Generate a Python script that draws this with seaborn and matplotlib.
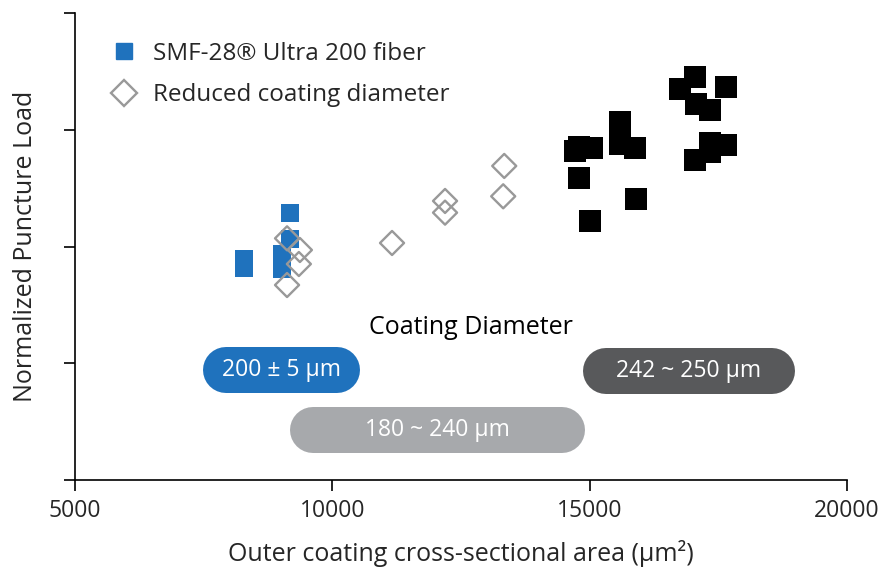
import matplotlib
matplotlib.use("Agg")
import matplotlib.pyplot as plt
from matplotlib.lines import Line2D
import pandas as pd
import seaborn as sns

# ---------------------------------------------------------------------------
#         Data
# ---------------------------------------------------------------------------
# SMF-28 Ultra 200 fiber (200 +/- 5 um coating)
ultra_x = [8280, 8280, 9180, 9180, 9020, 9020]
ultra_y = [1.89, 1.82, 2.29, 2.06, 1.94, 1.81]

# reduced coating diameter (180 ~ 240 um)
reduced_x = [9120, 9370, 9350, 9120, 11160, 12190, 12190, 13340, 13320]
reduced_y = [2.07, 1.97, 1.85, 1.67, 2.03, 2.39, 2.29, 2.69, 2.43]

# standard coating (242 ~ 250 um)
std_x = [17050, 16760, 17650, 17070, 17340, 17340, 17650, 17050, 17340,
         15590, 15590, 15880, 14720, 14790, 15050, 14790, 15900, 15010]
std_y = [3.45, 3.35, 3.37, 3.22, 3.17, 2.89, 2.87, 2.74, 2.81,
         3.07, 2.88, 2.84, 2.82, 2.85, 2.84, 2.59, 2.41, 2.22]

x_ticks = [5000, 10000, 15000, 20000]
y_ticks = [0, 1, 2, 3, 4]

pill_labels = ["200 \u00b1 5 \u03bcm", "180 ~ 240 \u03bcm", "242 ~ 250 \u03bcm"]
pill_spans = [(7490, 10540), (9180, 14910), (14870, 18990)]
pill_rows = [0.94, 0.43, 0.935]

BLUE = "#1f72bd"
DIAMOND = "#999999"
LIGHT = "#a7a9ac"
DARK = "#58595b"

# ---------------------------------------------------------------------------
#         Plot
# ---------------------------------------------------------------------------
sns.set_theme(style="ticks")
plt.rcParams["font.family"] = ["Open Sans", "DejaVu Sans"]

fig = plt.figure(figsize=(8.81, 5.69), dpi=100)
ax = fig.add_axes([75 / 881, 89 / 569, 772 / 881, 467 / 569])

df_std = pd.DataFrame(dict(x=std_x, y=std_y))
df_ultra = pd.DataFrame(dict(x=ultra_x, y=ultra_y))
df_red = pd.DataFrame(dict(x=reduced_x, y=reduced_y))

sns.scatterplot(ax=ax, data=df_std, x="x", y="y", marker="s", s=250,
                color="black", linewidth=0, zorder=3)
sns.scatterplot(ax=ax, data=df_ultra, x="x", y="y", marker="s", s=170,
                color=BLUE, linewidth=0, zorder=3)
sns.scatterplot(ax=ax, data=df_red, x="x", y="y", marker="D", s=150,
                facecolor="none", edgecolor=DIAMOND, linewidth=1.7, zorder=4)

ax.set_xlim(5000, 20000)
ax.set_ylim(0, 4)
ax.set_xticks(x_ticks)
ax.set_yticks(y_ticks)
ax.set_yticklabels([])
ax.tick_params(axis="both", direction="out", length=8, width=1.2,
               color="black", labelsize=16.5)
ax.tick_params(axis="x", pad=6)
for side in ["left", "bottom"]:
    ax.spines[side].set_linewidth(1.2)
    ax.spines[side].set_color("black")
sns.despine(ax=ax)

ax.set_xlabel("Outer coating cross-sectional area (\u03bcm\u00b2)", fontsize=18,
              labelpad=12)
ax.set_ylabel("Normalized Puncture Load", fontsize=18, labelpad=15)

# Rounded "pill" labels: thick lines with round caps
px_per_x = 772 / 15000
pill_h_px = 46
inset = (pill_h_px / 2) / px_per_x
for label, (x0, x1), yc, col in zip(pill_labels, pill_spans, pill_rows,
                                    [BLUE, LIGHT, DARK]):
    ax.plot([x0 + inset, x1 - inset], [yc, yc], color=col,
            lw=pill_h_px * 0.72, solid_capstyle="round", zorder=2)
    ax.text((x0 + x1) / 2, yc, label, color="white", fontsize=16.5,
            ha="center", va="center", zorder=3)

ax.text(12700, 1.31, "Coating Diameter", fontsize=18, ha="center",
        va="center", color="black")

handles = [
    Line2D([], [], marker="s", ls="none", color=BLUE, markersize=11.5),
    Line2D([], [], marker="D", ls="none", markerfacecolor="none",
           markeredgecolor=DIAMOND, markeredgewidth=1.7, markersize=13.5),
]
ax.legend(handles, ["SMF-28\u00ae Ultra 200 fiber", "Reduced coating diameter"],
          loc="upper left", bbox_to_anchor=(0.016, 0.985), frameon=False,
          fontsize=17.5, handletextpad=0.6, labelspacing=0.72,
          handlelength=1.2)

fig.savefig("out.png", dpi=100)
